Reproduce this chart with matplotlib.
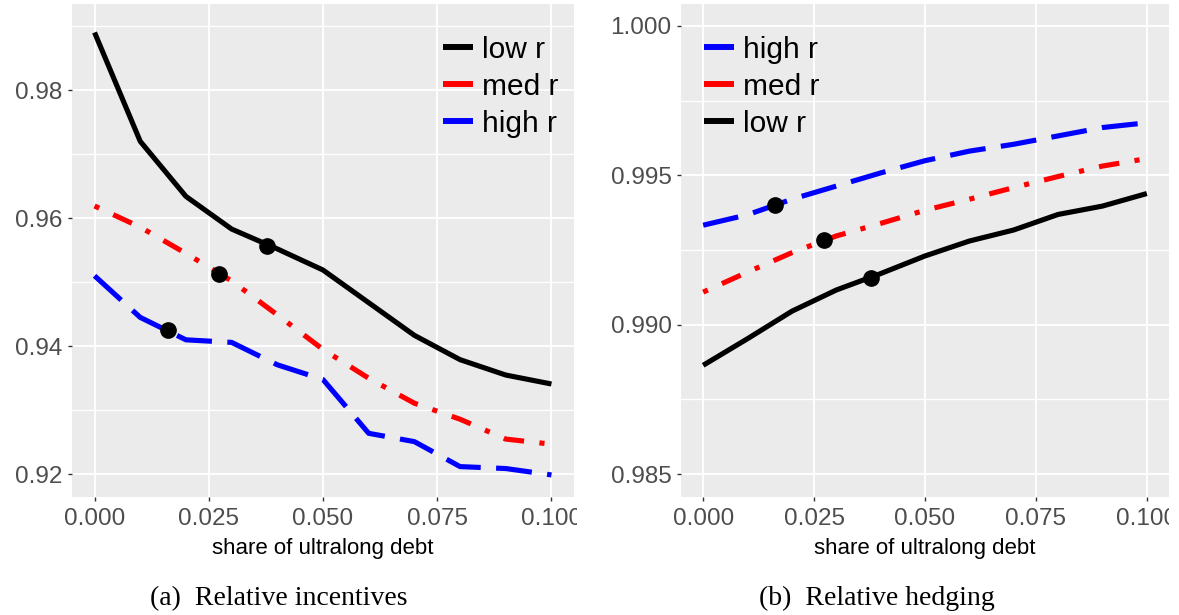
import matplotlib
matplotlib.use("Agg")
import matplotlib.pyplot as plt
from matplotlib.lines import Line2D
from matplotlib.patches import Rectangle

# share of ultralong debt (x) and the three r scenarios
share = [0.0, 0.01, 0.02, 0.03, 0.04, 0.05, 0.06, 0.07, 0.08, 0.09, 0.10]

# (a) relative incentives
inc_low = [0.9890, 0.9720, 0.9634, 0.9583, 0.9552, 0.9519, 0.9468, 0.9417, 0.9379, 0.9355, 0.9341]
inc_med = [0.9619, 0.9586, 0.9545, 0.9502, 0.9449, 0.9395, 0.9350, 0.9311, 0.9286, 0.9255, 0.9247]
inc_high = [0.9510, 0.9445, 0.9410, 0.9406, 0.9371, 0.9348, 0.9264, 0.9251, 0.9212, 0.9209, 0.9199]

# (b) relative hedging
hedge_low = [0.98864, 0.98953, 0.99045, 0.99116, 0.99171, 0.99230, 0.99280, 0.99317, 0.99369, 0.99397, 0.99439]
hedge_med = [0.99109, 0.99176, 0.99241, 0.99297, 0.99339, 0.99383, 0.99420, 0.99459, 0.99496, 0.99531, 0.99556]
hedge_high = [0.99333, 0.99368, 0.99420, 0.99464, 0.99508, 0.99549, 0.99581, 0.99604, 0.99632, 0.99660, 0.99676]

# current-share markers (high, med, low)
mark_x = [0.0161, 0.0273, 0.0378]
mark_inc = [0.9425, 0.9513, 0.9557]
mark_hedge = [0.99400, 0.99283, 0.99155]

x_ticks = [0.0, 0.025, 0.05, 0.075, 0.1]
x_labels = ["0.000", "0.025", "0.050", "0.075", "0.100"]
inc_ticks = [0.92, 0.94, 0.96, 0.98]
inc_labels = ["0.92", "0.94", "0.96", "0.98"]
hedge_ticks = [0.985, 0.990, 0.995, 1.000]
hedge_labels = ["0.985", "0.990", "0.995", "1.000"]

styles = {
    "low r": dict(color="black", ls="-"),
    "med r": dict(color="#FF0000", ls=(0, (1, 3, 4, 3))),
    "high r": dict(color="#0000FF", ls=(0, (7, 3))),
}

W, H = 1179, 615
fig = plt.figure(figsize=(W / 100, H / 100), dpi=100)
sans = "Liberation Sans"
serif = "Liberation Serif"


def px_axes(left, top, right, bottom):
    return fig.add_axes([left / W, 1 - bottom / H, (right - left) / W, (bottom - top) / H])


def style_axes(ax, yticks, ylabels, yminor, ylim):
    ax.set_facecolor("#EBEBEB")
    for s in ax.spines.values():
        s.set_visible(False)
    ax.set_xlim(-0.005, 0.105)
    ax.set_ylim(*ylim)
    ax.set_xticks(x_ticks)
    ax.set_xticklabels(x_labels)
    ax.set_yticks(yticks)
    ax.set_yticklabels(ylabels)
    ax.set_yticks(yminor, minor=True)
    ax.tick_params(axis="both", which="major", length=3.2, width=1.0, color="#333333",
                   labelcolor="#4D4D4D", labelsize=17.5)
    ax.tick_params(axis="x", pad=5)
    ax.tick_params(axis="y", pad=3.5)
    ax.tick_params(axis="y", which="minor", length=0)
    for lab in ax.get_xticklabels() + ax.get_yticklabels():
        lab.set_fontfamily(sans)
    ax.grid(True, which="major", color="white", lw=1.3)
    ax.grid(True, which="minor", axis="y", color="white", lw=1.0)
    ax.set_axisbelow(True)


def draw(ax, ys, order, mx, my, leg_x):
    for name in ["low r", "med r", "high r"]:
        ax.plot(share, ys[name], lw=3.7, solid_capstyle="butt", dash_capstyle="butt", **styles[name])
    ax.plot(mx, my, "o", color="black", ms=11, zorder=5)
    handles = [Line2D([], [], color=styles[n]["color"], lw=4.3, solid_capstyle="butt") for n in order]
    ax.legend(handles, order, loc="upper left", bbox_to_anchor=(leg_x, 0.936), frameon=False,
              prop={"family": sans, "size": 21.5}, handlelength=1.0, handletextpad=0.3,
              labelspacing=0.3, borderpad=0, borderaxespad=0)


ax1 = px_axes(71.7, 4.3, 574.3, 496.7)
style_axes(ax1, inc_ticks, inc_labels, [0.93, 0.95, 0.97, 0.99], (0.9165, 0.9934))
draw(ax1, {"low r": inc_low, "med r": inc_med, "high r": inc_high},
     ["low r", "med r", "high r"], mark_x, mark_inc, 0.739)

ax2 = px_axes(681, 4.3, 1169, 496.7)
style_axes(ax2, hedge_ticks, hedge_labels, [0.9875, 0.9925, 0.9975], (0.98424, 1.000726))
draw(ax2, {"low r": hedge_low, "med r": hedge_med, "high r": hedge_high},
     ["high r", "med r", "low r"], mark_x, mark_hedge, 0.047)

# clip the cut-off "0.100" labels like the cropped original
for x0, x1 in [(577, 600), (1169, 1179)]:
    fig.add_artist(Rectangle((x0 / W, 1 - 540 / H), (x1 - x0) / W, 45 / H, transform=fig.transFigure,
                             facecolor="white", edgecolor="none", zorder=10))

# axis titles and captions
for cx in [323, 925]:
    fig.text(cx / W, 1 - 554 / H, "share of ultralong debt", ha="center", va="baseline",
             family=sans, size=16, color="black")
fig.text(279 / W, 1 - 605 / H, "(a)  Relative incentives", ha="center", va="baseline",
         family=serif, size=20)
fig.text(877 / W, 1 - 605 / H, "(b)  Relative hedging", ha="center", va="baseline",
         family=serif, size=20)

fig.savefig("out.png", dpi=100)
